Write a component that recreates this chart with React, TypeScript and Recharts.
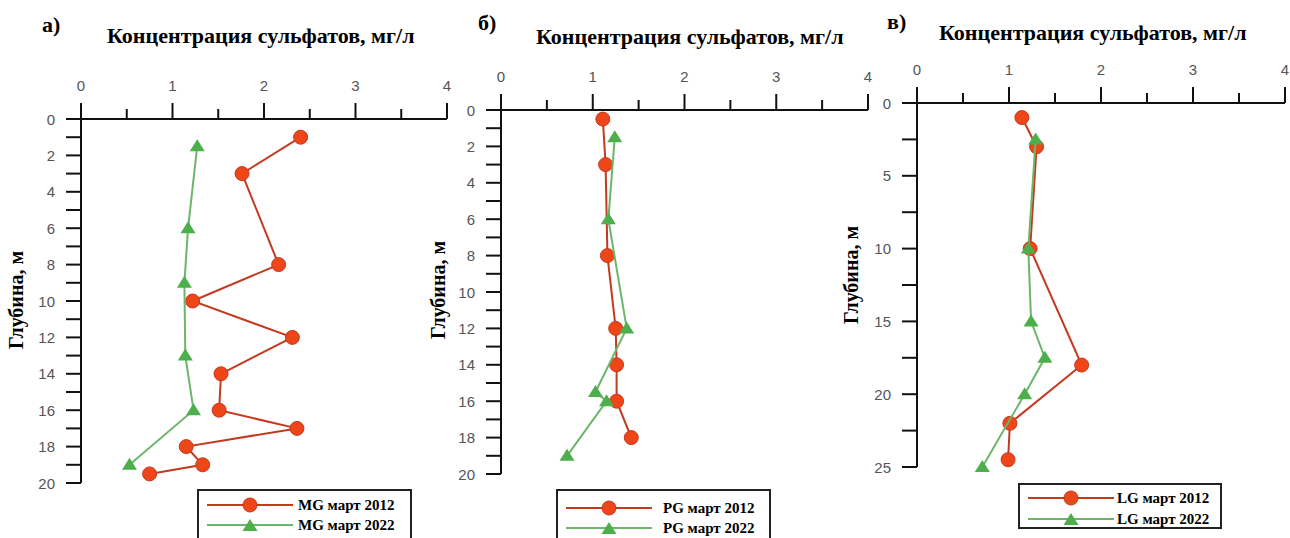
import React from 'react';
import { ScatterChart, Scatter, XAxis, YAxis } from 'recharts';

// concentrations (mg/l) and depths (m)
const mgDepth2012 = [1, 3, 8, 10, 12, 14, 16, 17, 18, 19, 19.5];
const mgConc2012 = [2.4, 1.76, 2.16, 1.22, 2.31, 1.53, 1.51, 2.36, 1.15, 1.33, 0.75];
const mgDepth2022 = [1.5, 6, 9, 13, 16, 19];
const mgConc2022 = [1.27, 1.17, 1.13, 1.14, 1.23, 0.53];

const pgDepth2012 = [0.5, 3, 8, 12, 14, 16, 18];
const pgConc2012 = [1.11, 1.14, 1.16, 1.25, 1.26, 1.26, 1.42];
const pgDepth2022 = [1.5, 6, 12, 15.5, 16, 19];
const pgConc2022 = [1.24, 1.17, 1.37, 1.03, 1.15, 0.72];

const lgDepth2012 = [1, 3, 10, 18, 22, 24.5];
const lgConc2012 = [1.14, 1.3, 1.23, 1.79, 1.01, 0.99];
const lgDepth2022 = [2.5, 10, 15, 17.5, 20, 25];
const lgConc2022 = [1.29, 1.21, 1.24, 1.39, 1.17, 0.71];

const concTicks = [0, 0.5, 1, 1.5, 2, 2.5, 3, 3.5, 4];
const depthTicks20 = [0, 1, 2, 3, 4, 5, 6, 7, 8, 9, 10, 11, 12, 13, 14, 15, 16, 17, 18, 19, 20];
const depthTicks25 = [0, 2.5, 5, 7.5, 10, 12.5, 15, 17.5, 20, 22.5, 25];

const TITLE = 'Концентрация сульфатов, мг/л';
const YLABEL = 'Глубина, м';

const RED = '#ee4519';
const RED_LINE = '#c23a1f';
const GREEN = '#4caf4c';
const GREEN_LINE = '#6cb66c';
const TICK_GREY = '#555';
const SERIF = '"Liberation Serif", "Times New Roman", serif';
const SANS = '"Liberation Sans", Arial, sans-serif';

const toPts = (xs: number[], ys: number[]) => xs.map((x, i) => ({ x, y: ys[i] }));

const tickText: React.CSSProperties = { fill: TICK_GREY, fontSize: 15, fontFamily: SANS };

const XTick = ({ x, y, payload }: any) => {
  const v = payload.value;
  const major = Number.isInteger(v);
  return (
    <g>
      <line x1={x} x2={x} y1={y} y2={y - (major ? 16 : 10)} stroke="#111" strokeWidth={2} />
      {major && (
        <text x={x} y={y - 34} textAnchor="middle" dominantBaseline="central" style={tickText}>
          {v}
        </text>
      )}
    </g>
  );
};

const makeYTick = (every: number) => ({ x, y, payload }: any) => {
  const v = payload.value;
  const labeled = Math.abs(v / every - Math.round(v / every)) < 1e-6;
  return (
    <g>
      <line x1={x} x2={x - 15} y1={y} y2={y} stroke="#111" strokeWidth={2} />
      {labeled && (
        <text x={x - 26} y={y} textAnchor="end" dominantBaseline="central" style={tickText}>
          {v}
        </text>
      )}
    </g>
  );
};

const RedDot = (p: any) => (
  <circle cx={p.cx} cy={p.cy} r={7} fill={RED} stroke={RED_LINE} strokeWidth={1} />
);
const GreenTri = (p: any) => (
  <polygon
    points={`${p.cx},${p.cy - 7} ${p.cx - 7.5},${p.cy + 5} ${p.cx + 7.5},${p.cy + 5}`}
    fill={GREEN}
  />
);

type PanelProps = {
  box: { left: number; top: number; width: number; height: number };
  plot: { l: number; r: number; t: number; b: number };
  maxDepth: number;
  depthTicks: number[];
  labelEvery: number;
  d2012: { x: number; y: number }[];
  d2022: { x: number; y: number }[];
};

function Panel({ box, plot, maxDepth, depthTicks, labelEvery, d2012, d2022 }: PanelProps) {
  const xh = 30;
  const yw = 40;
  const margin = {
    top: plot.t - box.top - xh,
    left: plot.l - box.left - yw,
    right: box.left + box.width - plot.r,
    bottom: box.top + box.height - plot.b,
  };
  return (
    <div style={{ position: 'absolute', left: box.left, top: box.top }}>
      <ScatterChart width={box.width} height={box.height} margin={margin}>
        <XAxis
          type="number"
          dataKey="x"
          orientation="top"
          height={xh}
          domain={[0, 4]}
          ticks={concTicks}
          interval={0}
          tickSize={0}
          tickMargin={0}
          tickLine={false}
          axisLine={{ stroke: '#111', strokeWidth: 2 }}
          tick={<XTick />}
        />
        <YAxis
          type="number"
          dataKey="y"
          reversed
          width={yw}
          domain={[0, maxDepth]}
          ticks={depthTicks}
          interval={0}
          tickSize={0}
          tickMargin={0}
          tickLine={false}
          axisLine={{ stroke: '#111', strokeWidth: 2 }}
          tick={makeYTick(labelEvery)}
        />
        <Scatter data={d2012} line={{ stroke: RED_LINE, strokeWidth: 2 }} shape={RedDot} isAnimationActive={false} />
        <Scatter data={d2022} line={{ stroke: GREEN_LINE, strokeWidth: 2 }} shape={GreenTri} isAnimationActive={false} />
      </ScatterChart>
    </div>
  );
}

function LegendBox({ left, top, width, height, rows, textX, name }: any) {
  return (
    <div
      style={{
        position: 'absolute', left, top, width, height,
        border: '2px solid #222', boxSizing: 'border-box', background: '#fff',
      }}
    >
      {rows.map((ry: number, i: number) => (
        <div key={i} style={{ position: 'absolute', left: 0, top: ry - top - 11, height: 20, width: width }}>
          <svg width={100} height={20} style={{ position: 'absolute', left: 4, top: 0 }}>
            <line x1={4} x2={90} y1={10} y2={10} stroke={i === 0 ? RED_LINE : GREEN_LINE} strokeWidth={2} />
            {i === 0 ? <RedDot cx={47} cy={10} /> : <GreenTri cx={47} cy={11} />}
          </svg>
          <span
            style={{
              position: 'absolute', left: textX - left, top: 0, lineHeight: '20px',
              fontFamily: SERIF, fontWeight: 'bold', fontSize: 15, whiteSpace: 'nowrap', color: '#000',
            }}
          >
            {name} март {i === 0 ? '2012' : '2022'}
          </span>
        </div>
      ))}
    </div>
  );
}

const textStyle: React.CSSProperties = {
  position: 'absolute', fontFamily: SERIF, fontWeight: 'bold', color: '#000', whiteSpace: 'nowrap',
};

function YLabel({ cx, cy }: { cx: number; cy: number }) {
  return (
    <div
      style={{
        ...textStyle, fontSize: 20, left: cx, top: cy,
        transform: 'translate(-50%, -50%) rotate(-90deg)',
      }}
    >
      {YLABEL}
    </div>
  );
}

export default function App() {
  return (
    <div style={{ position: 'absolute', left: 0, top: 0, width: 1290, height: 538, background: '#fff', overflow: 'hidden' }}>
      <Panel
        box={{ left: 0, top: 0, width: 460, height: 495 }}
        plot={{ l: 81, r: 447, t: 119, b: 483 }}
        maxDepth={20}
        depthTicks={depthTicks20}
        labelEvery={2}
        d2012={toPts(mgConc2012, mgDepth2012)}
        d2022={toPts(mgConc2022, mgDepth2022)}
      />
      <Panel
        box={{ left: 420, top: 0, width: 460, height: 490 }}
        plot={{ l: 501, r: 868, t: 110, b: 474 }}
        maxDepth={20}
        depthTicks={depthTicks20}
        labelEvery={2}
        d2012={toPts(pgConc2012, pgDepth2012)}
        d2022={toPts(pgConc2022, pgDepth2022)}
      />
      <Panel
        box={{ left: 840, top: 0, width: 450, height: 485 }}
        plot={{ l: 917, r: 1285, t: 103, b: 467 }}
        maxDepth={25}
        depthTicks={depthTicks25}
        labelEvery={5}
        d2012={toPts(lgConc2012, lgDepth2012)}
        d2022={toPts(lgConc2022, lgDepth2022)}
      />

      <div style={{ ...textStyle, fontSize: 22, left: 42, top: 12 }}>а)</div>
      <div style={{ ...textStyle, fontSize: 22, left: 107, top: 23 }}>{TITLE}</div>
      <div style={{ ...textStyle, fontSize: 22, left: 478, top: 10 }}>б)</div>
      <div style={{ ...textStyle, fontSize: 22, left: 536, top: 24 }}>{TITLE}</div>
      <div style={{ ...textStyle, fontSize: 22, left: 887, top: 9 }}>в)</div>
      <div style={{ ...textStyle, fontSize: 22, left: 939, top: 20 }}>{TITLE}</div>

      <YLabel cx={16} cy={300} />
      <YLabel cx={438} cy={290} />
      <YLabel cx={851} cy={275} />

      <LegendBox left={197} top={489} width={215} height={60} rows={[504, 524]} textX={296} name="MG" />
      <LegendBox left={556} top={489} width={215} height={60} rows={[507, 527]} textX={661} name="PG" />
      <LegendBox left={1018} top={483} width={204} height={46} rows={[497, 518]} textX={1115} name="LG" />
    </div>
  );
}
